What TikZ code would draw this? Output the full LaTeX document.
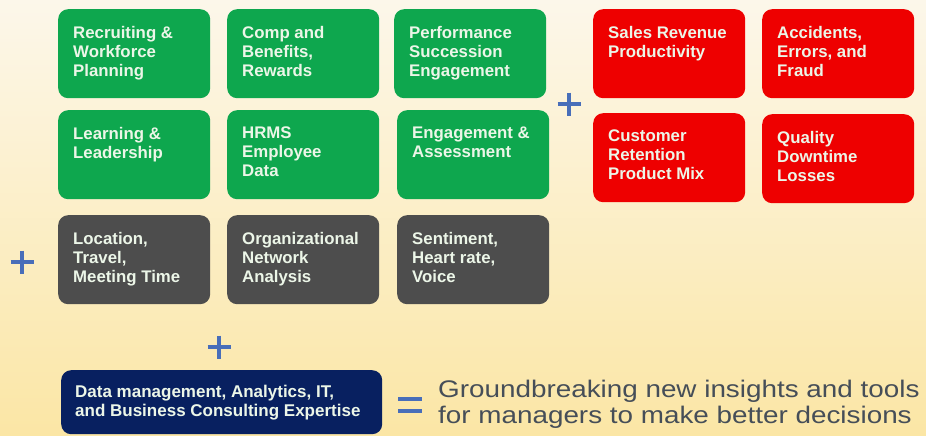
\documentclass[tikz,border=0pt]{standalone}
\usepackage{fontspec}
\setmainfont{Liberation Sans}
\newfontfamily\widefont[FakeStretch=1.16]{Liberation Sans}

\definecolor{bgcream}{RGB}{252,247,234}
\definecolor{bgyellow}{RGB}{251,230,165}
\definecolor{hrgreen}{RGB}{14,167,78}
\definecolor{bizred}{RGB}{238,0,0}
\definecolor{sensorgray}{RGB}{77,77,77}
\definecolor{expertnavy}{RGB}{8,32,96}
\definecolor{cardfont}{RGB}{236,246,232}
\definecolor{opblue}{RGB}{72,110,185}
\definecolor{claimgray}{RGB}{70,78,88}

\def\cardtext#1{\parbox[c][55pt][t]{122pt}{#1}}
\def\plusmark(#1,#2){\draw[opsign] (#1-11.5,#2) -- (#1+11.5,#2) (#1,#2-11.5) -- (#1,#2+11.5);}

\tikzset{
  card/.style={rounded corners=10pt, anchor=north west, inner xsep=15pt, inner ysep=17pt,
    text=cardfont, font=\bfseries\fontsize{16.8}{19}\selectfont},
  hrcard/.style={card, fill=hrgreen},
  bizcard/.style={card, fill=bizred},
  sensorcard/.style={card, fill=sensorgray},
  opsign/.style={draw=opblue, line width=4pt},
}

\begin{document}
\begin{tikzpicture}[x=1pt, y=-1pt]
    \useasboundingbox (0,0) rectangle (926,436);
    \shade[top color=bgcream, bottom color=bgyellow] (0,0) rectangle (926,436);

    % HR data
    \node[hrcard] (recruit) at (58,9) {\cardtext{Recruiting \&\\Workforce\\Planning}};
    \node[hrcard] (comp) at (227,9) {\cardtext{Comp and\\Benefits,\\Rewards}};
    \node[hrcard] (perf) at (394,9) {\cardtext{Performance\\Succession\\Engagement}};
    \node[hrcard] (learn) at (58,110) {\cardtext{Learning \&\\Leadership}};
    \node[hrcard] (hrms) at (227,110) {\cardtext{HRMS\\Employee\\Data}};
    \node[hrcard] (assess) at (397,110) {\cardtext{Engagement \&\\Assessment}};

    % business data
    \node[bizcard] (sales) at (593,9) {\cardtext{Sales Revenue\\Productivity}};
    \node[bizcard] (fraud) at (762,9) {\cardtext{Accidents,\\Errors, and\\Fraud}};
    \node[bizcard] (retain) at (593,113) {\cardtext{Customer\\Retention\\Product Mix}};
    \node[bizcard] (quality) at (762,114) {\cardtext{Quality\\Downtime\\Losses}};

    % sensor data
    \node[sensorcard] (travel) at (58,215) {\cardtext{Location,\\Travel,\\Meeting Time}};
    \node[sensorcard] (ona) at (227,215) {\cardtext{Organizational\\Network\\Analysis}};
    \node[sensorcard] (voice) at (397,215) {\cardtext{Sentiment,\\Heart rate,\\Voice}};

    \node[card, fill=expertnavy, inner xsep=14pt, inner ysep=15pt,
      font=\bfseries\fontsize{17}{19}\selectfont] (expert) at (61,370)
      {\parbox[c][34pt][t]{293pt}{Data management, Analytics, IT,\\and Business Consulting Expertise}};

    \plusmark(569,104)
    \plusmark(22,262)
    \plusmark(219,347)
    \draw[opsign] (398,399) -- (422,399) (398,411) -- (422,411);

    \node[anchor=base west, inner sep=0pt, align=left, text=claimgray,
      font=\widefont\fontsize{24}{26}\selectfont] (claim) at (438,423)
      {Groundbreaking new insights and tools\\for managers to make better decisions};
\end{tikzpicture}
\end{document}
